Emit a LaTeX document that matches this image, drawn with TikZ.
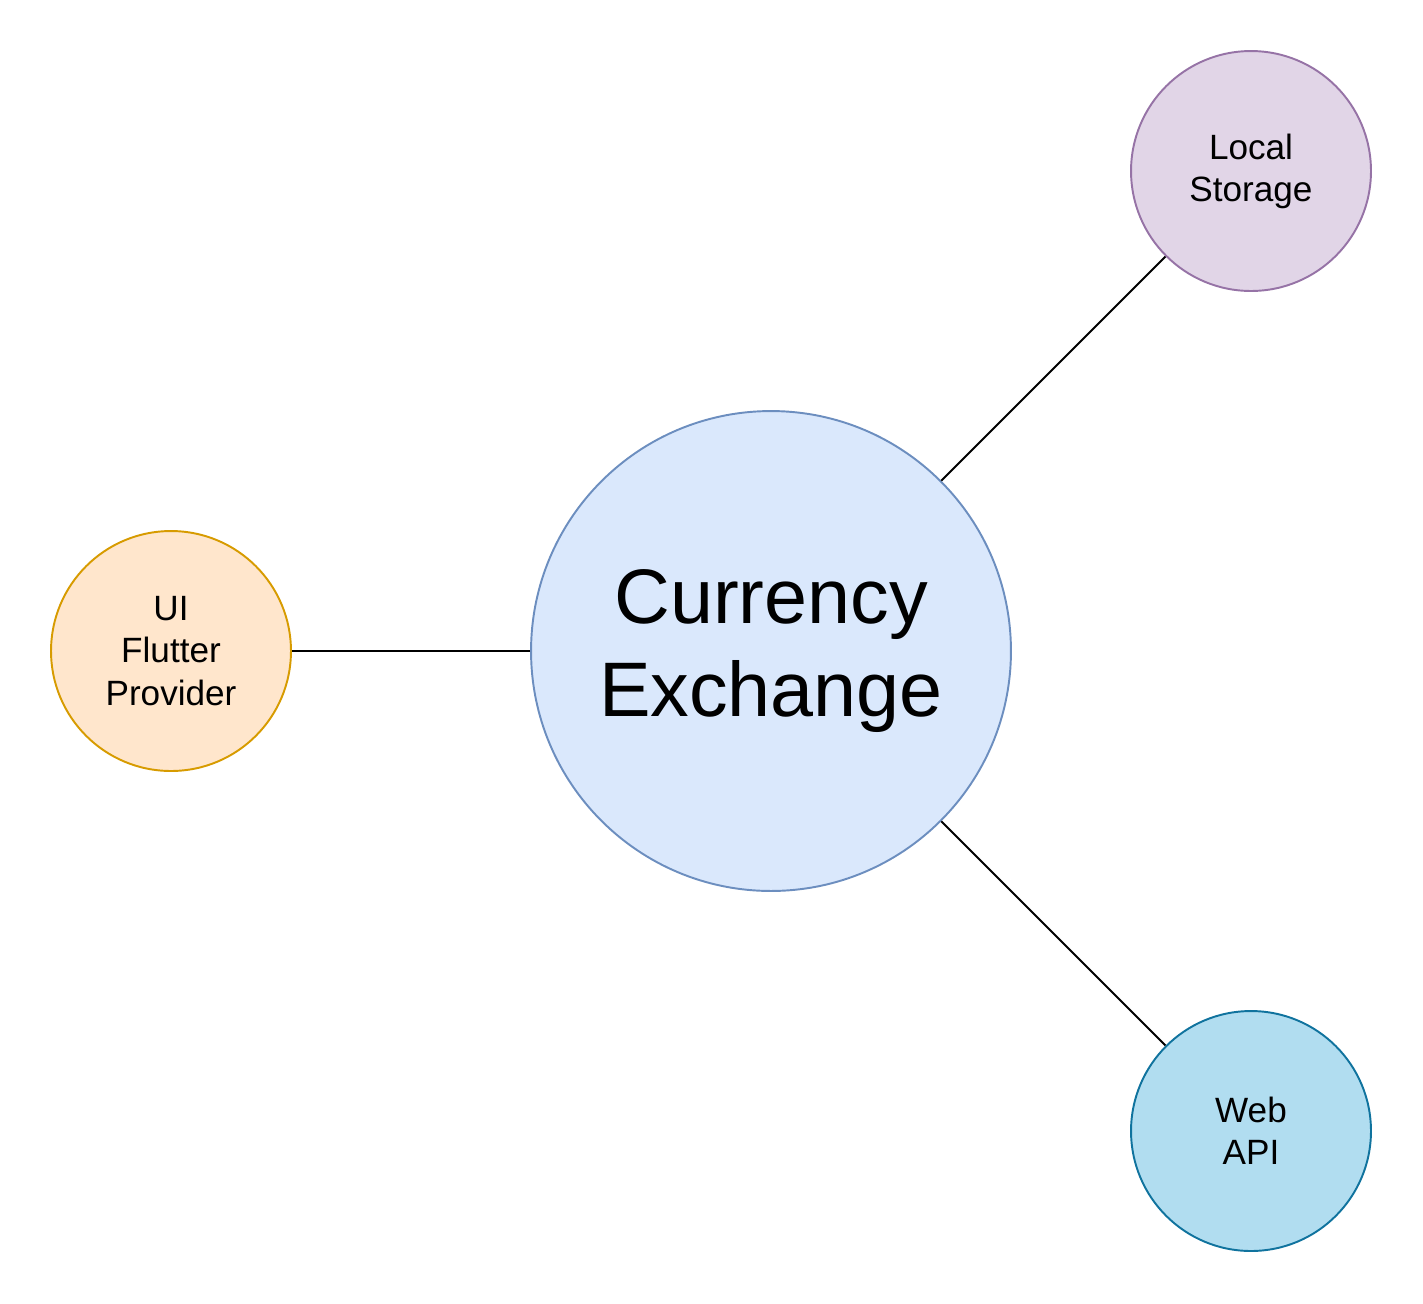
\documentclass[tikz,border=0pt]{standalone}
\usepackage{fontspec}
\setmainfont{Liberation Sans}
\definecolor{coreFill}{HTML}{DAE8FC}
\definecolor{coreLine}{HTML}{6C8EBF}
\definecolor{uiFill}{HTML}{FFE6CC}
\definecolor{uiLine}{HTML}{D79B00}
\definecolor{storeFill}{HTML}{E1D5E7}
\definecolor{storeLine}{HTML}{9673A6}
\definecolor{apiFill}{HTML}{B1DDF0}
\definecolor{apiLine}{HTML}{10739E}
\begin{document}
\begin{tikzpicture}[x=0.02cm, y=-0.02cm,
    part/.style={circle, line width=1.1pt, inner sep=0pt, minimum size=4.8cm,
        align=center, font=\fontsize{20}{24}\selectfont},
    hub/.style={circle, line width=1.1pt, inner sep=0pt, minimum size=9.6cm,
        align=center, font=\fontsize{44}{53}\selectfont},
    link/.style={line width=1.1pt}]
    \useasboundingbox (0,0) rectangle (1423,1303);

    % Mitte
    \node[hub, draw=coreLine, fill=coreFill] (core) at (771,651) {Currency\\Exchange};

    % Teile rundherum
    \node[part, draw=uiLine, fill=uiFill] (ui) at (171,651) {UI\\Flutter\\Provider};
    \node[part, draw=storeLine, fill=storeFill] (store) at (1251,171) {Local\\Storage};
    \node[part, draw=apiLine, fill=apiFill] (api) at (1251,1131) {Web\\API};

    % Verbindungen
    \draw[link] (core) -- (ui);
    \draw[link] (core) -- (store);
    \draw[link] (core) -- (api);
\end{tikzpicture}
\end{document}
